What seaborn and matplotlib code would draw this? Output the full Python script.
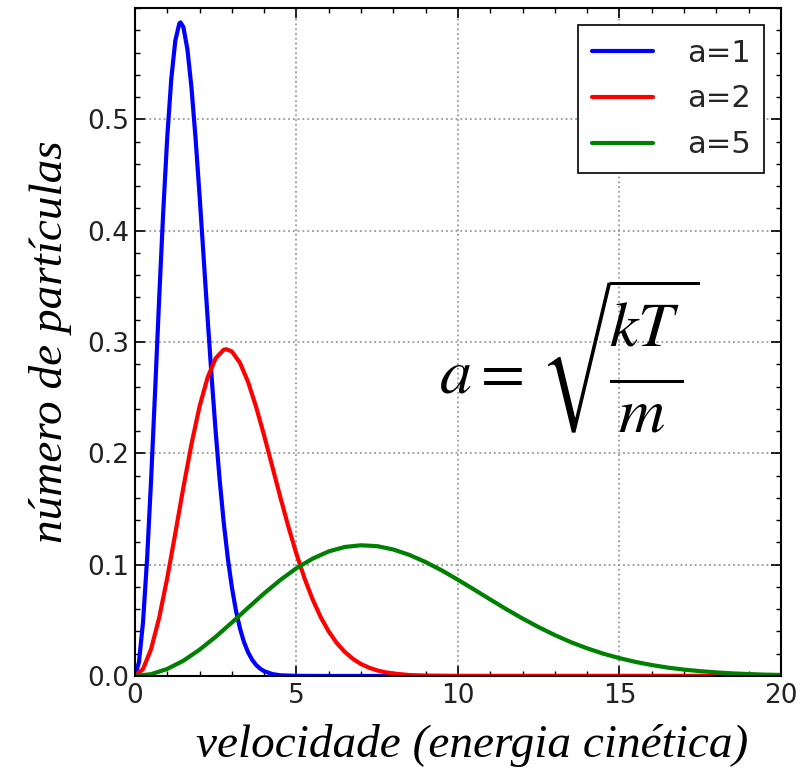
import pandas as pd
import numpy as np
import matplotlib.pyplot as plt
import seaborn as sns
from matplotlib.mathtext import MathTextParser

# curves (velocity vs. number of particles)
x_a1 = [0, 0.125, 0.25, 0.375, 0.5, 0.625, 0.75, 0.875, 1.0, 1.125, 1.25, 1.375,
        1.41, 1.5, 1.625, 1.75, 1.875, 2.0, 2.125, 2.25, 2.375, 2.5, 2.625, 2.75,
        2.875, 3.0, 3.125, 3.25, 3.375, 3.5, 3.625, 3.75, 3.875, 4.0, 4.25, 4.5,
        5.0, 6.0, 20.0]
y_a1 = [0, 0.0124, 0.0483, 0.1046, 0.176, 0.2564, 0.3388, 0.4166, 0.4839, 0.5363,
        0.5708, 0.5862, 0.5871, 0.5829, 0.5628, 0.5286, 0.4836, 0.4319, 0.3768,
        0.3214, 0.2682, 0.2191, 0.1753, 0.1375, 0.1058, 0.0798, 0.059, 0.0429,
        0.0305, 0.0214, 0.0147, 0.0099, 0.0066, 0.0043, 0.0017, 0.0006, 0.0001,
        0, 0]

x_a2 = [0, 0.25, 0.5, 0.75, 1.0, 1.25, 1.5, 1.75, 2.0, 2.25, 2.5, 2.75, 2.83,
        3.0, 3.25, 3.5, 3.75, 4.0, 4.25, 4.5, 4.75, 5.0, 5.25, 5.5, 5.75, 6.0,
        6.25, 6.5, 6.75, 7.0, 7.25, 7.5, 7.75, 8.0, 8.5, 9.0, 10.0, 20.0]
y_a2 = [0, 0.0062, 0.0241, 0.0523, 0.088, 0.1282, 0.1694, 0.2083, 0.242, 0.2682,
        0.2854, 0.2931, 0.2935, 0.2915, 0.2814, 0.2643, 0.2418, 0.216, 0.1884,
        0.1607, 0.1341, 0.1096, 0.0877, 0.0688, 0.0529, 0.0399, 0.0295, 0.0215,
        0.0153, 0.0107, 0.0074, 0.005, 0.0033, 0.0022, 0.0008, 0.0003, 0, 0]

x_a5 = [0, 0.5, 1, 1.5, 2, 2.5, 3, 3.5, 4, 4.5, 5, 5.5, 6, 6.5, 7, 7.5, 8, 8.5,
        9, 9.5, 10, 10.5, 11, 11.5, 12, 12.5, 13, 13.5, 14, 14.5, 15, 15.5, 16,
        16.5, 17, 17.5, 18, 18.5, 19, 19.5, 20]
y_a5 = [0, 0.0016, 0.0063, 0.0137, 0.0236, 0.0352, 0.048, 0.0612, 0.0742, 0.0862,
        0.0968, 0.1054, 0.1119, 0.1159, 0.1174, 0.1166, 0.1136, 0.1087, 0.1023,
        0.0948, 0.0864, 0.0776, 0.0687, 0.0599, 0.0516, 0.0438, 0.0367, 0.0303,
        0.0248, 0.02, 0.016, 0.0126, 0.0098, 0.0075, 0.0057, 0.0043, 0.0032,
        0.0023, 0.0017, 0.0012, 0.0009]

labels = ["a=1", "a=2", "a=5"]
colors = ["#0000ff", "#ff0000", "#008000"]

df = pd.concat([
    pd.DataFrame({"v": x_a1, "n": y_a1, "curve": labels[0]}),
    pd.DataFrame({"v": x_a2, "n": y_a2, "curve": labels[1]}),
    pd.DataFrame({"v": x_a5, "n": y_a5, "curve": labels[2]}),
])

sns.set_theme(style="ticks")
plt.rcParams["mathtext.fontset"] = "stix"

fig, ax = plt.subplots(figsize=(8.08, 7.72), dpi=100)
fig.subplots_adjust(left=0.167, right=0.9666, top=0.9896, bottom=0.1244)

sns.lineplot(data=df, x="v", y="n", hue="curve", palette=colors, linewidth=3,
             sort=False, ax=ax)

ax.set_xlim(0, 20)
ax.set_ylim(0, 0.6)
ax.set_xticks([0, 5, 10, 15, 20])
ax.set_yticks([0.0, 0.1, 0.2, 0.3, 0.4, 0.5])
ax.set_xticks(np.arange(0, 21, 1), minor=True)
ax.set_yticks(np.arange(0, 0.61, 0.02), minor=True)
ax.set_yticklabels(["0.0", "0.1", "0.2", "0.3", "0.4", "0.5"])
ax.tick_params(which="both", direction="in", top=True, right=True,
               color="black", labelsize=19, labelcolor="#222222")
ax.tick_params(which="major", length=7, width=1.2)
ax.tick_params(axis="x", which="major", pad=5)
ax.tick_params(axis="y", which="major", pad=4)
ax.tick_params(which="minor", length=3.5, width=1)
ax.grid(True, which="major", linestyle=":", color="#999999", linewidth=1.3)
for s in ax.spines.values():
    s.set_color("black")
    s.set_linewidth(1.5)

ax.set_xlabel("velocidade (energia cinética)", family="Liberation Serif",
              style="italic", fontsize=34, color="black")
ax.xaxis.set_label_coords(0.522, -0.072)
ax.set_ylabel("número de partículas", family="Liberation Serif",
              style="italic", fontsize=34, labelpad=11, color="black")

# taller fraction (extra room above and below the bar), plain one as fallback
formula = (r"$a=\,\sqrt{\!\dfrac{\genfrac{}{}{0}{0}{kT}{\,}}"
           r"{\genfrac{}{}{0}{0}{\,}{m}}}$")
try:
    MathTextParser("agg").parse(formula, dpi=100)
except Exception:
    formula = r"$a=\,\sqrt{\dfrac{kT}{m}}$"
ax.text(9.4, 0.287, formula, fontsize=46, ha="left", va="center", color="black")

leg = ax.legend(loc="upper right", fontsize=22, frameon=True, fancybox=False,
                framealpha=1, edgecolor="black", handlelength=2.0,
                borderaxespad=0.55, labelspacing=0.55, handletextpad=1.1,
                borderpad=0.45)
leg.get_frame().set_linewidth(1.2)
leg.set_title(None)

fig.savefig("out.png", dpi=100)
